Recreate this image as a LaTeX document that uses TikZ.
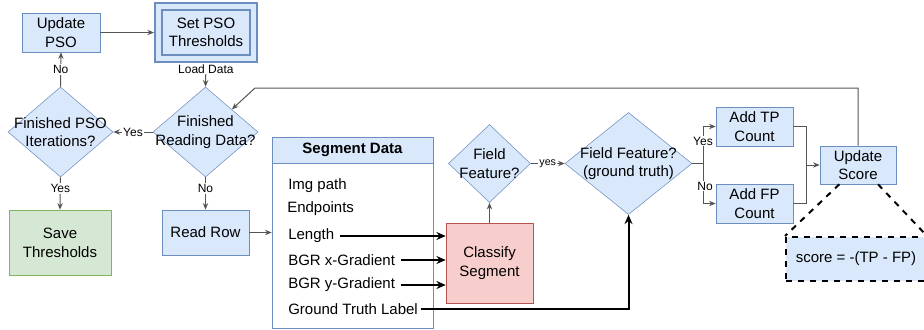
\documentclass[tikz,border=0pt]{standalone}
\usepackage{fontspec}
\setmainfont{Liberation Sans}
\usetikzlibrary{shapes.geometric,arrows.meta}
\definecolor{bfill}{HTML}{DAE8FC}
\definecolor{bline}{HTML}{6C8EBF}
\definecolor{gfill}{HTML}{D5E8D4}
\definecolor{gline}{HTML}{82B366}
\definecolor{rfill}{HTML}{F8CECC}
\definecolor{rline}{HTML}{B85450}
\definecolor{conn}{HTML}{555555}
\begin{document}
\begin{tikzpicture}[x=0.75pt,y=-0.75pt,
  font=\fontsize{11.25}{14}\selectfont,
  blk/.style={rectangle,draw=bline,fill=bfill,inner sep=0pt,align=center},
  dia/.style={diamond,draw=bline,fill=bfill,inner sep=0pt},
  flow/.style={draw=conn,line width=0.75pt,-{Stealth[length=5pt,width=4pt]}},
  bold flow/.style={draw=black,line width=1.5pt,-{Stealth[length=7pt,width=6pt]}},
  lbl/.style={font=\fontsize{9}{10}\selectfont,fill=white,inner sep=0.8pt},
  item/.style={anchor=west,inner sep=0pt},
  dashline/.style={draw=black,line width=1.5pt,dash pattern=on 4.5pt off 4.5pt}]
\useasboundingbox (0,0) rectangle (924,329);

% left column: PSO loop
\node[blk,minimum width=58.5pt,minimum height=29.25pt] (upd) at (61,32.5) {Update\\PSO};
\node[rectangle,draw=bline,fill=bfill,line width=1.5pt,minimum width=76.5pt,minimum height=44.25pt] (setouter) at (206,32.5) {};
\node[blk,line width=1pt,minimum width=66pt,minimum height=33.75pt] (set) at (206,32.5) {Set PSO\\Thresholds};
\node[dia,minimum width=78.75pt,minimum height=67.5pt,
  label={[align=center]center:Finished\\Reading Data?}] (read) at (205.5,132) {};
\node[dia,minimum width=78.75pt,minimum height=67.5pt,
  label={[align=center]center:Finished PSO\\Iterations?}] (iter) at (60.5,132) {};
\node[rectangle,draw=gline,fill=gfill,inner sep=0pt,align=center,minimum width=76.5pt,minimum height=48.75pt] (save) at (60,242.5) {Save\\Thresholds};
\node[blk,minimum width=65.25pt,minimum height=33.75pt] (row) at (205.5,232.5) {Read Row};

% segment record
\node[rectangle,draw=bline,fill=white,minimum width=120.75pt,minimum height=143.25pt] (seg) at (352.5,232.5) {};
\node[rectangle,draw=bline,fill=bfill,minimum width=120.75pt,minimum height=19.5pt,font=\fontsize{11.25}{14}\selectfont\bfseries] (seghead) at (352.5,150) {Segment Data};
\node[item] (img) at (288,186) {Img path};
\node[item] (endp) at (287,209) {Endpoints};
\node[item] (len) at (288,236) {Length};
\node[item] (xg) at (288,260) {BGR x-Gradient};
\node[item] (yg) at (288,285) {BGR y-Gradient};
\node[item] (gt) at (288,309) {Ground Truth Label};

% classification
\node[rectangle,draw=rline,fill=rfill,inner sep=0pt,align=center,minimum width=65.25pt,minimum height=60pt] (cls) at (489.5,263) {Classify\\Segment};
\node[dia,minimum width=61.5pt,minimum height=58.5pt,
  label={[align=center]center:Field\\Feature?}] (ff) at (489.5,163.5) {};
\node[dia,minimum width=95.25pt,minimum height=76.5pt,
  label={[align=center]center:Field Feature?\\(ground truth)}] (gtd) at (628.5,163.5) {};
\node[blk,minimum width=57.75pt,minimum height=29.25pt] (tp) at (754.5,126.5) {Add TP\\Count};
\node[blk,minimum width=57.75pt,minimum height=29.25pt] (fp) at (754.5,203.5) {Add FP\\Count};
\node[blk,minimum width=57pt,minimum height=28.5pt] (us) at (858,165) {Update\\Score};
\node[rectangle,fill=bfill,draw=black,line width=1.5pt,dash pattern=on 4.5pt off 4.5pt,minimum width=105pt,minimum height=33pt] (sc) at (856,259) {score = -(TP - FP)};

% connectors of the PSO loop
\draw[flow] (upd.east) -- (setouter.west);
\draw[flow] (setouter.south) -- node[lbl,pos=0.25] {Load Data} (read.north);
\draw[flow] (read.west) -- node[lbl] {Yes} (iter.east);
\draw[flow] (iter.north) -- node[lbl] {No} (upd.south);
\draw[flow] (iter.south) -- node[lbl,pos=0.35] {Yes} (save.north);
\draw[flow] (read.south) -- node[lbl,pos=0.35] {No} (row.north);
\draw[flow] (row.east) -- (seg.west);

% feature inputs
\draw[bold flow] ([xshift=4pt]len.east) -- (len.east -| cls.west);
\draw[bold flow] ([xshift=4pt]xg.east) -- (xg.east -| cls.west);
\draw[bold flow] ([xshift=4pt]yg.east) -- (yg.east -| cls.west);
\draw[bold flow] ([xshift=2pt]gt.east) -- (gt.east -| gtd.south) -- (gtd.south);

% decisions and counting
\draw[flow] (cls.north) -- (ff.south);
\draw[flow] (ff.east) -- node[lbl,font=\fontsize{8}{9}\selectfont] {yes} (gtd.west);
\coordinate (sp) at (703,163.5);
\coordinate (mg) at (806,165);
\draw[draw=conn,line width=0.75pt] (gtd.east) -- (sp);
\draw[flow] (sp) |- (tp.west);
\draw[flow] (sp) |- (fp.west);
\node[lbl] at (703,141) {Yes};
\node[lbl] at (705,186) {No};
\draw[draw=conn,line width=0.75pt] (tp.east) -| (mg);
\draw[draw=conn,line width=0.75pt] (fp.east) -| (mg);
\draw[flow] (mg) -- (us.west);

% loop back to reading
\coordinate (fb) at (255,88);
\draw[flow] (us.north) |- (fb) -- (read.north east);

% score detail
\draw[dashline] ([xshift=-14pt]us.south) -- (sc.north west);
\draw[dashline] ([xshift=15pt]us.south) -- (sc.north east);
\end{tikzpicture}
\end{document}
